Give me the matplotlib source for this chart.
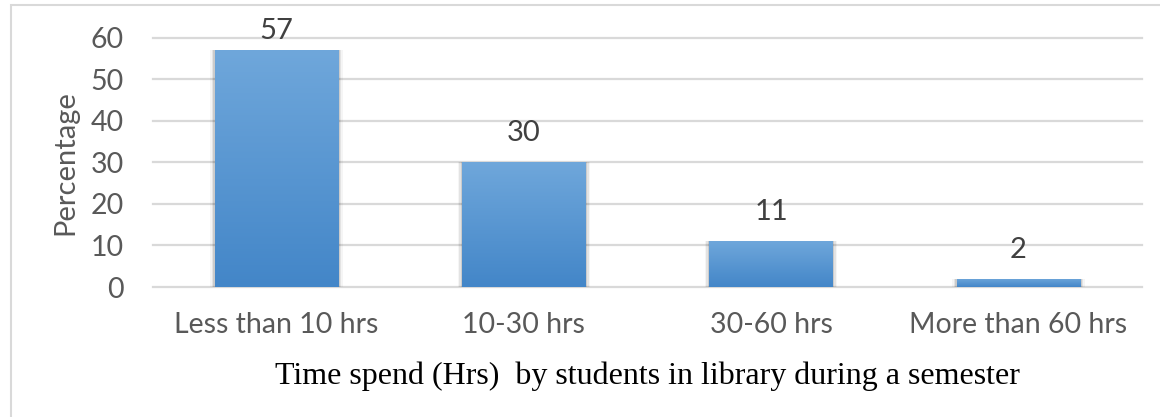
import matplotlib
matplotlib.use("Agg")
import matplotlib.pyplot as plt
import numpy as np
from matplotlib.patches import Rectangle
from matplotlib.colors import LinearSegmentedColormap

categories = ["Less than 10 hrs", "10-30 hrs", "30-60 hrs", "More than 60 hrs"]
percentages = [57, 30, 11, 2]
y_ticks = [0, 10, 20, 30, 40, 50, 60]
x_title = "Time spend (Hrs)  by students in library during a semester"
y_title = "Percentage"

W, H = 1160, 417
fig = plt.figure(figsize=(W / 100, H / 100), dpi=100)
fig.patch.set_facecolor("white")

# plot area in pixel terms
left, right, top, bottom = 153, 1142, 37.7, 287
ax = fig.add_axes([left / W, 1 - bottom / H, (right - left) / W, (bottom - top) / H])

ax.set_xlim(-0.5, len(categories) - 0.5)
ax.set_ylim(0, 60)
ax.set_yticks(y_ticks)
ax.set_xticks(range(len(categories)))
ax.set_xticklabels(categories)

for s in ax.spines.values():
    s.set_visible(False)
ax.tick_params(length=0)
ax.tick_params(axis="y", pad=21)
ax.tick_params(axis="x", pad=18)
for lbl in ax.get_xticklabels() + ax.get_yticklabels():
    lbl.set_fontfamily("Lato")
    lbl.set_fontsize(20.5)
    lbl.set_color("#595959")

ax.yaxis.grid(True, color="#d9d9d9", linewidth=1.6)
ax.set_axisbelow(True)
for gl in ax.yaxis.get_gridlines():
    gl.set_clip_on(False)

cmap = LinearSegmentedColormap.from_list("bar", ["#4386c8", "#6fa7db"])
grad = np.linspace(0, 1, 256).reshape(-1, 1)
bar_w = 0.5

for i, v in enumerate(percentages):
    x0 = i - bar_w / 2
    # soft shadow under the bar
    for k, a in enumerate([0.10, 0.07, 0.04]):
        d = 0.006 * (k + 1)
        sh = Rectangle((x0 - d, -0.35 * (k + 1)), bar_w + 2 * d, v + 0.35 * (k + 1),
                       facecolor="#000000", alpha=a, edgecolor="none", zorder=2)
        ax.add_patch(sh)
    rect = Rectangle((x0, 0), bar_w, v, facecolor="none", edgecolor="none", zorder=3)
    ax.add_patch(rect)
    im = ax.imshow(grad, cmap=cmap, extent=(x0, x0 + bar_w, 0, v),
                   origin="lower", aspect="auto", zorder=3, interpolation="bilinear")
    im.set_clip_path(rect)
    label_y = min(v + 7.0, 61.6)
    ax.text(i, label_y, str(v), ha="center", va="center", fontsize=21,
            fontfamily="Lato", color="#404040", zorder=4, clip_on=False)

ax.set_xlim(-0.5, len(categories) - 0.5)
ax.set_ylim(0, 60)

fig.text(65 / W, 1 - 163 / H, y_title, rotation=90, ha="center", va="center",
         fontsize=21, fontfamily="Lato", color="#595959")
fig.text(647 / W, 1 - 376 / H, x_title, ha="center", va="center",
         fontsize=23, fontfamily="Liberation Serif", color="black")

# outer chart frame
frame = Rectangle((11 / W, -0.05), 1.2, 1 - 5 / H + 0.05, transform=fig.transFigure,
                  facecolor="none", edgecolor="#d9d9d9", linewidth=1.5)
fig.patches.append(frame)

fig.savefig("out.png", dpi=100, facecolor="white")
